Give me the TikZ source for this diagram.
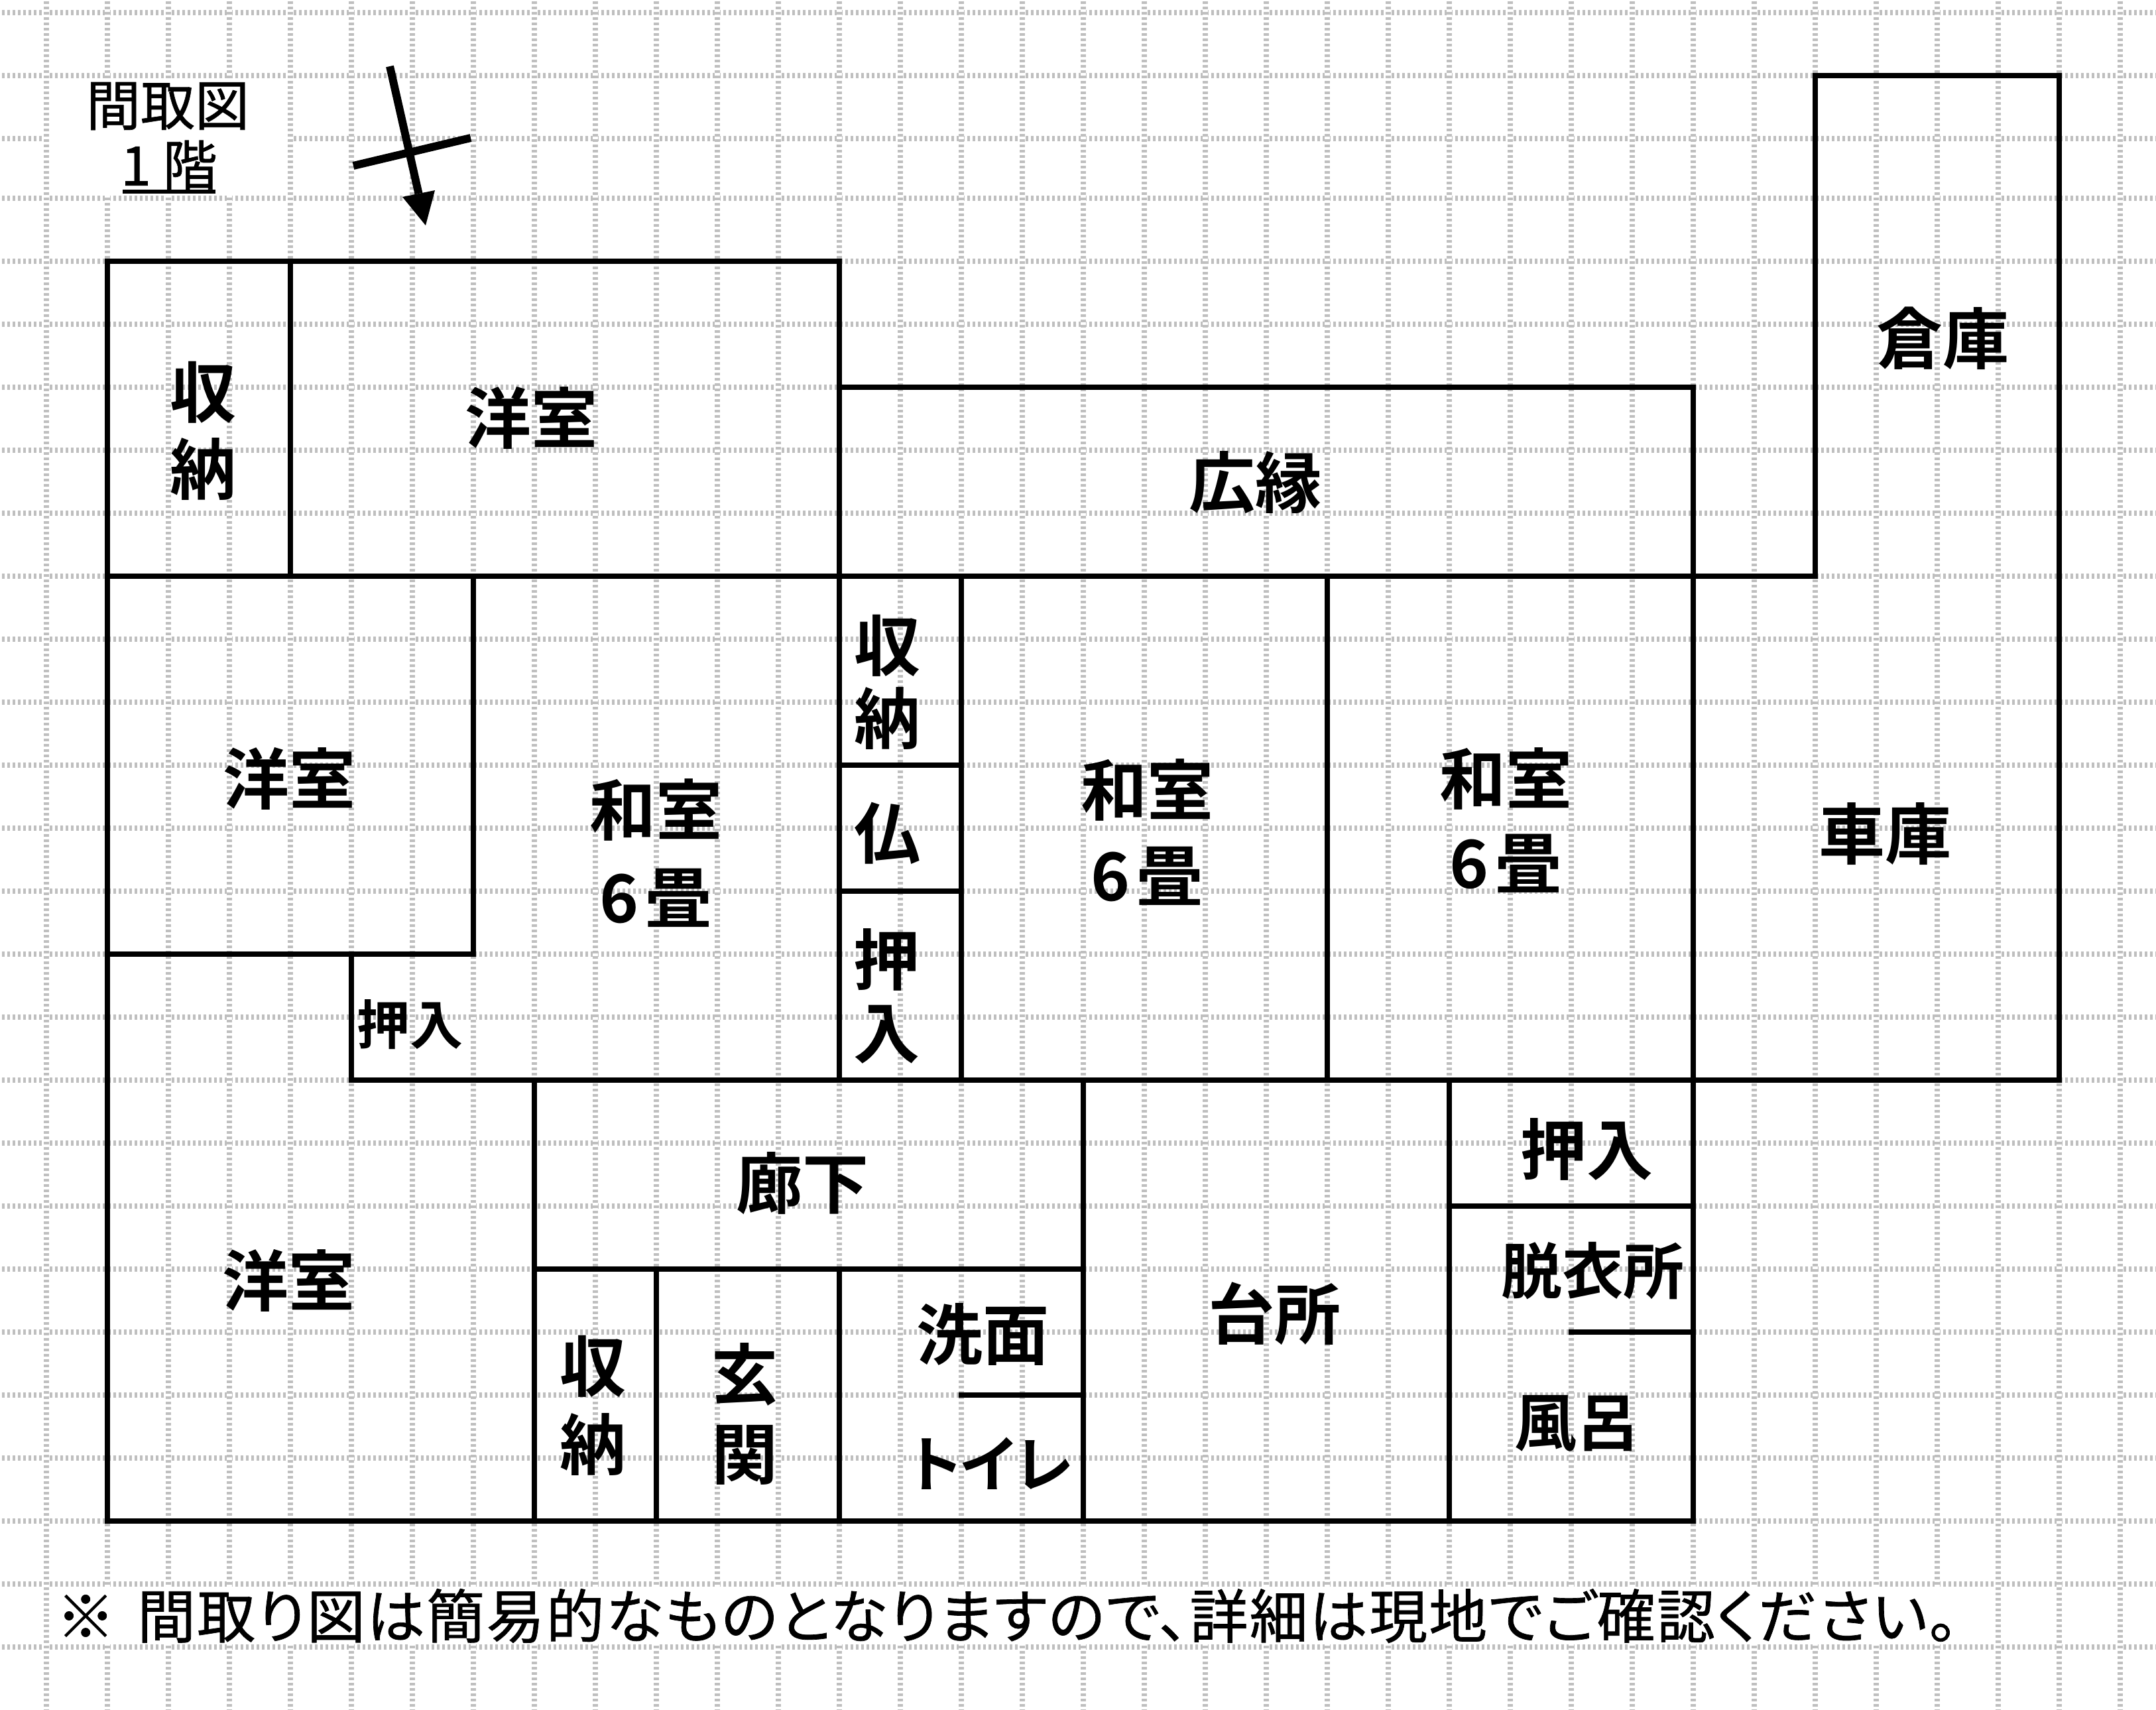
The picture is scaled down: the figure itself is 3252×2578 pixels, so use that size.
\documentclass[tikz,border=0pt]{standalone}
\usepackage{fontspec}
\newfontfamily\jpr[RawFeature={+palt},FakeBold=0.8]{Noto Sans CJK JP}
\newfontfamily\jpn[RawFeature={+palt},LetterSpace=2.5,FakeBold=0.8]{Noto Sans CJK JP}
\newfontfamily\jpb[BoldFont={Noto Sans CJK JP Bold},RawFeature={+palt}]{Noto Sans CJK JP}
\newcommand{\rmfont}[1]{\bfseries\fontsize{#1}{#1}\selectfont}
\newcommand{\leadby}[1]{\setlength{\baselineskip}{#1pt}}
\definecolor{gridgray}{HTML}{BFBFBF}
\tikzset{
  gridline/.style={draw=gridgray,line width=8pt,dash pattern=on 4pt off 4pt},
  wall/.style={draw=black,line width=8pt,line cap=rect},
  lab/.style={inner sep=0pt,align=center,font=\jpb\rmfont{100}},
  labs/.style={lab,font=\jpb\rmfont{80}},
  title/.style={inner sep=0pt,align=center,font=\jpr\fontsize{82}{82}\selectfont},
  note/.style={inner sep=0pt,anchor=west,font=\jpn\fontsize{88}{88}\selectfont},
}
\begin{document}
\begin{tikzpicture}[x=1pt,y=-1pt]
\useasboundingbox (0,0) rectangle (3252,2578);
\fill[white] (0,0) rectangle (3252,2578);
% grid
\foreach \yy in {19.3,114.3,209,299.3,394,489,...,2578}
  \draw[gridline] (3,\yy) -- (3252,\yy);
\foreach \xx in {70,162,...,3198}{
  \draw[white,line width=8pt] (\xx,0) -- (\xx,2578);
  \draw[gridline] (\xx,1.7) -- (\xx,2578);
}
\fill[white] (74,118) rectangle (434,295);
\fill[white] (74,2393) rectangle (2960,2480);
% walls
\draw[wall] (162,394) -- (1266,394);
\draw[wall] (162,394) -- (162,2294) -- (2554,2294);
\draw[wall] (438,394) -- (438,869);
\draw[wall] (1266,394) -- (1266,1629);
\draw[wall] (162,869) -- (2738,869);
\draw[wall] (1266,584) -- (2554,584) -- (2554,2294);
\draw[wall] (2738,869) -- (2738,114) -- (3106,114) -- (3106,1629) -- (530,1629) -- (530,1439);
\draw[wall] (714,869) -- (714,1439) -- (162,1439);
\draw[wall] (1450,869) -- (1450,1629);
\draw[wall] (2002,869) -- (2002,1629);
\draw[wall] (1266,1154) -- (1450,1154);
\draw[wall] (1266,1344) -- (1450,1344);
\draw[wall] (806,1629) -- (806,2294);
\draw[wall] (1634,1629) -- (1634,2294);
\draw[wall] (2186,1629) -- (2186,2294);
\draw[wall] (806,1914) -- (1634,1914);
\draw[wall] (990,1914) -- (990,2294);
\draw[wall] (1266,1914) -- (1266,2294);
\draw[wall] (1450,2104) -- (1634,2104);
\draw[wall] (2186,1819) -- (2554,1819);
\draw[wall] (2370,2009) -- (2554,2009);
% compass
\coordinate (nstart) at (588,100);
\coordinate (nbase) at (631.5,292);
\coordinate (ntip) at (642,340);
\coordinate (nl) at (607,297);
\coordinate (nr) at (656,287);
\draw[line width=12pt] (nstart) -- (nbase);
\fill (nl) -- (ntip) -- (nr) -- cycle;
\draw[line width=12pt] (533,250) -- (710,208);
% titles
\node[title] (ttl) at (253,160) {間取図};
\node[title] (flr) at (255,249) {1\hspace{18pt}階};
\draw[line width=6pt] (185,289) -- (325,289);
% labels
\node[lab,execute at begin node={\leadby{116}}] (a1) at (306,650) {収\\納};
\node[lab] (a2) at (801,630) {洋室};
\node[lab] (a3) at (436,1174) {洋室};
\node[lab,execute at begin node={\leadby{132}}] (a4) at (989,1286) {和室\\6\hspace{10pt}畳};
\node[lab,execute at begin node={\leadby{129}}] (a5) at (1730,1255) {和室\\6\hspace{10pt}畳};
\node[lab,execute at begin node={\leadby{127}}] (a6) at (2271,1237) {和室\\6\hspace{10pt}畳};
\node[lab,execute at begin node={\leadby{110}}] (a7) at (1338,1029) {収\\納};
\node[lab] (a8) at (1338,1257) {仏};
\node[lab,execute at begin node={\leadby{110}}] (a9) at (1337,1502) {押\\入};
\node[labs] (a10) at (618,1545) {押入};
\node[lab] (a11) at (1893,728) {広縁};
\node[lab] (a12) at (2930,510) {倉庫};
\node[lab] (a13) at (2843,1258) {車庫};
\node[lab] (a14) at (435,1931) {洋室};
\node[lab] (a15) at (1210,1785) {廊下};
\node[lab,execute at begin node={\leadby{118}}] (a16) at (894,2120) {収\\納};
\node[lab,execute at begin node={\leadby{120}}] (a17) at (1123,2132) {玄\\関};
\node[lab] (a18) at (1482,2012) {洗面};
\node[lab,font=\jpb\rmfont{92}] (a19) at (1495,2207) {トイレ};
\node[lab] (a20) at (1922,1981) {台所};
\node[lab] (a21) at (2393,1733) {押入};
\node[lab,font=\jpb\rmfont{92}] (a22) at (2402,1917) {脱衣所};
\node[lab,font=\jpb\rmfont{94}] (a23) at (2378,2147) {風呂};
\node[note] (n) at (85,2437) {※\hspace{12pt} 間取り図は簡易的なものとなりますので、詳細は現地でご確認ください。};
\end{tikzpicture}
\end{document}
